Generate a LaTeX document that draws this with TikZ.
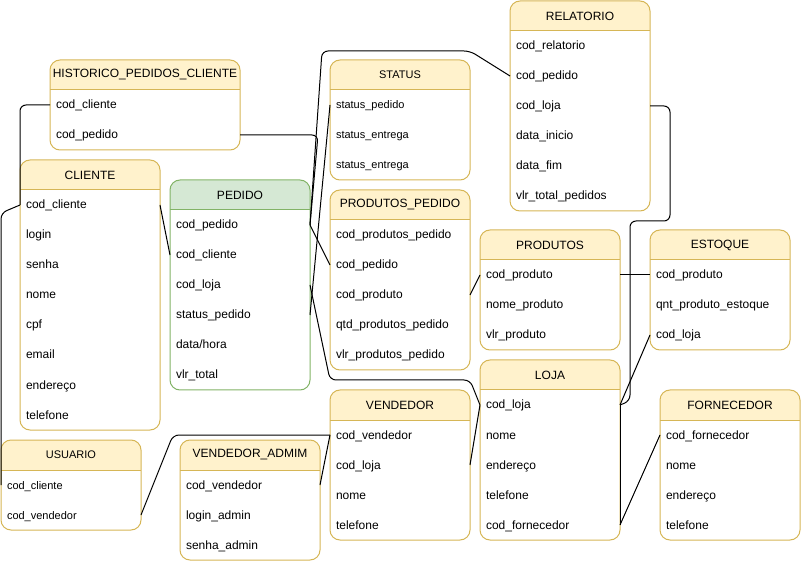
\documentclass[tikz,border=0pt]{standalone}
\usepackage{fontspec}
\setmainfont{Liberation Sans}
\definecolor{amarelo}{HTML}{FFF2CC}
\definecolor{amareloborda}{HTML}{D6B656}
\definecolor{verde}{HTML}{D5E8D4}
\definecolor{verdeborda}{HTML}{82B366}
\tikzset{
  titulo/.style={inner sep=0pt, font=\fontsize{12}{14}\selectfont},
  campo/.style={inner xsep=6pt, inner ysep=0pt, outer sep=0pt, minimum height=30pt, text height=10pt, text depth=2pt, align=left, font=\fontsize{12}{14}\selectfont},
  miuda/.style={font=\fontsize{11}{13}\selectfont},
  rel/.style={draw=black, line width=1pt, rounded corners=6pt},
}
% #1 nome, #2 x, #3 y, #4 largura, #5 linhas, #6 cor, #7 estilo, #8 titulo, #9 campos
\newcommand{\tabela}[9]{%
  \pgfmathsetmacro{\altura}{30*(#5+1)}
  \pgfmathsetmacro{\largura}{#4-12}
  \begin{scope}
    \clip[rounded corners=10pt] (#2,#3) rectangle ++(#4,\altura);
    \fill[white] (#2,#3) rectangle ++(#4,\altura);
    \fill[#6] (#2,#3) rectangle ++(#4,30);
  \end{scope}
  \draw[#6borda, line width=1pt, rounded corners=10pt] (#2,#3) rectangle ++(#4,\altura);
  \draw[#6borda, line width=1pt] (#2,#3+30) -- ++(#4,0);
  \node[titulo, #7] (#1) at (#2+#4/2,#3+15) {#8};
  \foreach \nomecampo [count=\i] in {#9}
    \node[campo, #7, text width=\largura pt] (#1-\i) at (#2+#4/2,#3+15+30*\i) {\nomecampo};
}
\begin{document}
\begin{tikzpicture}[x=1pt, y=-1pt]
  \useasboundingbox (0,0) rectangle (801,561);

  % Tabelas
  \tabela{historico}{50}{60}{190}{2}{amarelo}{}{HISTORICO\_PEDIDOS\_CLIENTE}{cod\_cliente, cod\_pedido}
  \tabela{cliente}{20}{160}{140}{8}{amarelo}{}{CLIENTE}{cod\_cliente, login, senha, nome, cpf, email, endereço, telefone}
  \tabela{pedido}{170}{180}{140}{6}{verde}{}{PEDIDO}{cod\_pedido, cod\_cliente, cod\_loja, status\_pedido, data/hora, vlr\_total}
  \tabela{status}{330}{60}{140}{3}{amarelo}{miuda}{STATUS}{status\_pedido, status\_entrega, status\_entrega}
  \tabela{ppedido}{330}{190}{140}{5}{amarelo}{}{PRODUTOS\_PEDIDO}{cod\_produtos\_pedido, cod\_pedido, cod\_produto, qtd\_produtos\_pedido, vlr\_produtos\_pedido}
  \tabela{relatorio}{510}{1}{140}{6}{amarelo}{}{RELATORIO}{cod\_relatorio, cod\_pedido, cod\_loja, data\_inicio, data\_fim, vlr\_total\_pedidos}
  \tabela{produtos}{480}{230}{140}{3}{amarelo}{}{PRODUTOS}{cod\_produto, nome\_produto, vlr\_produto}
  \tabela{estoque}{650}{230}{140}{3}{amarelo}{}{ESTOQUE}{cod\_produto, qnt\_produto\_estoque, cod\_loja}
  \tabela{loja}{480}{360}{140}{5}{amarelo}{}{LOJA}{cod\_loja, nome, endereço, telefone, cod\_fornecedor}
  \tabela{fornecedor}{660}{390}{140}{4}{amarelo}{}{FORNECEDOR}{cod\_fornecedor, nome, endereço, telefone}
  \tabela{vendedor}{330}{390}{140}{4}{amarelo}{}{VENDEDOR}{cod\_vendedor, cod\_loja, nome, telefone}
  \tabela{vadmim}{180}{440}{140}{3}{amarelo}{}{VENDEDOR\_ADMIM}{cod\_vendedor, login\_admin, senha\_admin}
  \tabela{usuario}{1}{440}{140}{2}{amarelo}{miuda}{USUARIO}{cod\_cliente, cod\_vendedor}

  % Relacionamentos
  \draw[rel] (historico-1.west) -| (cliente-1.west);
  \draw[rel] (cliente-1.west) -- ++(-19,8) -- (usuario-1.west);
  \draw[rel] (historico-2.east) -- ++(78,0) -- (pedido-1.east);
  \draw[rel] (relatorio-2.west) -- ++(-40,-25) -- ++(-148,0) -- (pedido-1.east);
  \draw[rel] (status-1.west) -- (pedido-4.east);
  \draw[rel] (pedido-1.east) -- (ppedido-2.west);
  \draw[rel] (pedido-3.east) -- ++(20,95) -- ++(140,0) -- (loja-1.west);
  \draw[rel] (cliente-1.east) -- (pedido-2.west);
  \draw[rel] (ppedido-3.east) -- (produtos-1.west);
  \draw[rel] (produtos-1.east) -- (estoque-1.west);
  \draw[rel] (estoque-3.west) -- (loja-1.east);
  \draw[rel] (fornecedor-1.west) -- (loja-5.east);
  \draw[rel] (loja-1.east) -- (loja-5.east);
  \draw[rel] (relatorio-3.east) -- ++(20,0) -- ++(0,115) -- ++(-40,0) -- ++(0,180) -- (loja-1.east);
  \draw[rel] (vendedor-2.east) -- (loja-1.west);
  \draw[rel] (vadmim-1.east) -- (vendedor-1.west);
  \draw[rel] (usuario-2.east) -- ++(32,-80) -- (vendedor-1.west);
\end{tikzpicture}
\end{document}
